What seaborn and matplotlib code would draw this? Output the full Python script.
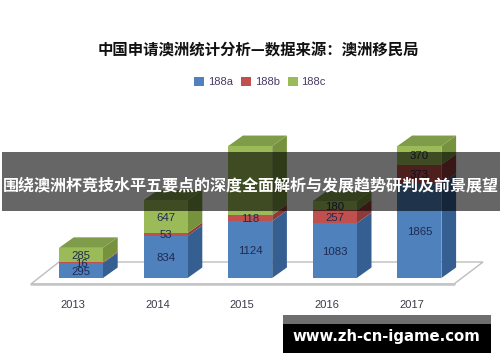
import matplotlib
matplotlib.use("Agg")
import matplotlib.pyplot as plt
import seaborn as sns
import pandas as pd
import numpy as np
from matplotlib.patches import Polygon, Rectangle
from matplotlib.transforms import ScaledTranslation

years = ["2013", "2014", "2015", "2016", "2017"]
v188a = [295, 834, 1124, 1083, 1865]
v188b = [16, 53, 118, 257, 373]
v188c = [285, 647, 1366, 180, 370]
show_c = [True, True, False, True, True]  # the 2015 188c label is not visible in the reference
series = ["188a", "188b", "188c"]
title = "中国申请澳洲统计分析—数据来源：澳洲移民局"
banner = "围绕澳洲杯竞技水平五要点的深度全面解析与发展趋势研判及前景展望"
site = "www.zh-cn-igame.com"

front = ["#4F81BD", "#C0504D", "#9BBB59"]
side = ["#365F91", "#8E3A38", "#76923C"]
top = ["#4A76AD", "#B04A47", "#7F9C4A"]

sns.set_theme(style="white")
cjk = ["Noto Sans CJK SC", "DejaVu Sans"]
W, H = 500, 362
fig = plt.figure(figsize=(W / 100, H / 100), dpi=100, facecolor="white")
ax = fig.add_axes([0, 0, 1, 1], facecolor="white")

PXX, PXY = 84.6, 0.0506
X0, Y0 = 81, 278
ax_xlim = (-X0 / PXX, (W - X0) / PXX)
ax_ylim = (-(H - Y0) / PXY, Y0 / PXY)
dx, dy = 14.7 / PXX, 10.5 / PXY
bw = 44 / PXX
label_shift = 1 / PXY

df = pd.DataFrame({"year": years, "188a": v188a, "188b": v188b, "188c": v188c})
tr = lambda px, py: ((px - X0) / PXX, (Y0 - py) / PXY)

# floor
floor = [tr(31, 284), tr(59, 262), tr(483, 262), tr(454, 284)]
ax.add_patch(Polygon(floor, closed=True, fc="#FFFFFF", ec="#BDBDBD", lw=1.0, zorder=1))
ax.plot([floor[0][0], floor[3][0]], [floor[0][1]] * 2, color="#C4C4C4", lw=1.8, zorder=1.5)

bottom = np.zeros(len(years))
for k, s in enumerate(series):
    vals = df[s].to_numpy(dtype=float)
    sns.barplot(data=df, x="year", y=s, color=front[k], width=bw, bottom=bottom,
                saturation=1, label=s, ax=ax, zorder=4, legend=True,
                linewidth=0, edgecolor="none")
    for i, (b, v) in enumerate(zip(bottom, vals)):
        r = i + bw / 2
        l = i - bw / 2
        ax.add_patch(Polygon([(r, b), (r + dx, b + dy), (r + dx, b + v + dy), (r, b + v)],
                             closed=True, fc=side[k], ec="none", zorder=3))
        if k == 2:
            ax.add_patch(Polygon([(l, b + v), (r, b + v), (r + dx, b + v + dy), (l + dx, b + v + dy)],
                                 closed=True, fc=top[k], ec="none", zorder=3))
        if k < 2 or show_c[i]:
            ax.text(i, b + v / 2 - label_shift, str(int(v)), ha="center", va="center", fontsize=8.2,
                    family="Liberation Sans", color="#1F2A50", zorder=6)
    bottom = bottom + vals

ax.set_xlim(*ax_xlim)
ax.set_ylim(*ax_ylim)
ax.set_xlabel("")
ax.set_ylabel("")
ax.set_yticks([])
for sp in ("left", "right", "top"):
    ax.spines[sp].set_visible(False)
ax.spines["bottom"].set_position(("data", tr(0, 299)[1]))
ax.spines["bottom"].set_visible(False)
ax.tick_params(axis="x", length=0, pad=1)
shift = ScaledTranslation(-8 / 100, 0, fig.dpi_scale_trans)
for t in ax.get_xticklabels():
    t.set_fontsize(8)
    t.set_family("Liberation Sans")
    t.set_color("#3A3A4A")
    t.set_transform(t.get_transform() + shift)

leg = ax.legend(loc="center", bbox_to_anchor=(260 / W, 1 - 82 / H), ncols=3, frameon=False,
                prop={"family": "Liberation Sans", "size": 8}, labelcolor="#4A3A66",
                handlelength=0.9, handleheight=0.9, handletextpad=0.35, columnspacing=0.7)

ax.text(258.5 / W, 1 - 51 / H, title, transform=ax.transAxes, ha="center", va="center",
        fontsize=11.1, fontweight="bold", family=cjk, color="#111111", zorder=10)

# overlays
ax.add_patch(Rectangle((2 / W, 1 - 211 / H), 498 / W, 59 / H, transform=ax.transAxes,
                       fc="#000000", alpha=0.6, ec="none", zorder=20))
ax.text(250.5 / W, 1 - 185 / H, banner, transform=ax.transAxes, ha="center", va="center",
        fontsize=11.55, fontweight="bold", family=cjk, color="white", zorder=21)
ax.add_patch(Rectangle((283 / W, 1 - 324 / H), 208 / W, 9 / H, transform=ax.transAxes,
                       fc="#6E6E6E", ec="none", zorder=20))
ax.add_patch(Rectangle((283 / W, 1 - 353 / H), 208 / W, 29 / H, transform=ax.transAxes,
                       fc="#000000", ec="none", zorder=20))
ax.text(386.5 / W, 1 - 337 / H, site, transform=ax.transAxes, ha="center", va="center",
        fontsize=10.7, fontweight="bold", family="DejaVu Sans", color="white", zorder=21)

fig.savefig("out.png", dpi=100, facecolor="white")
